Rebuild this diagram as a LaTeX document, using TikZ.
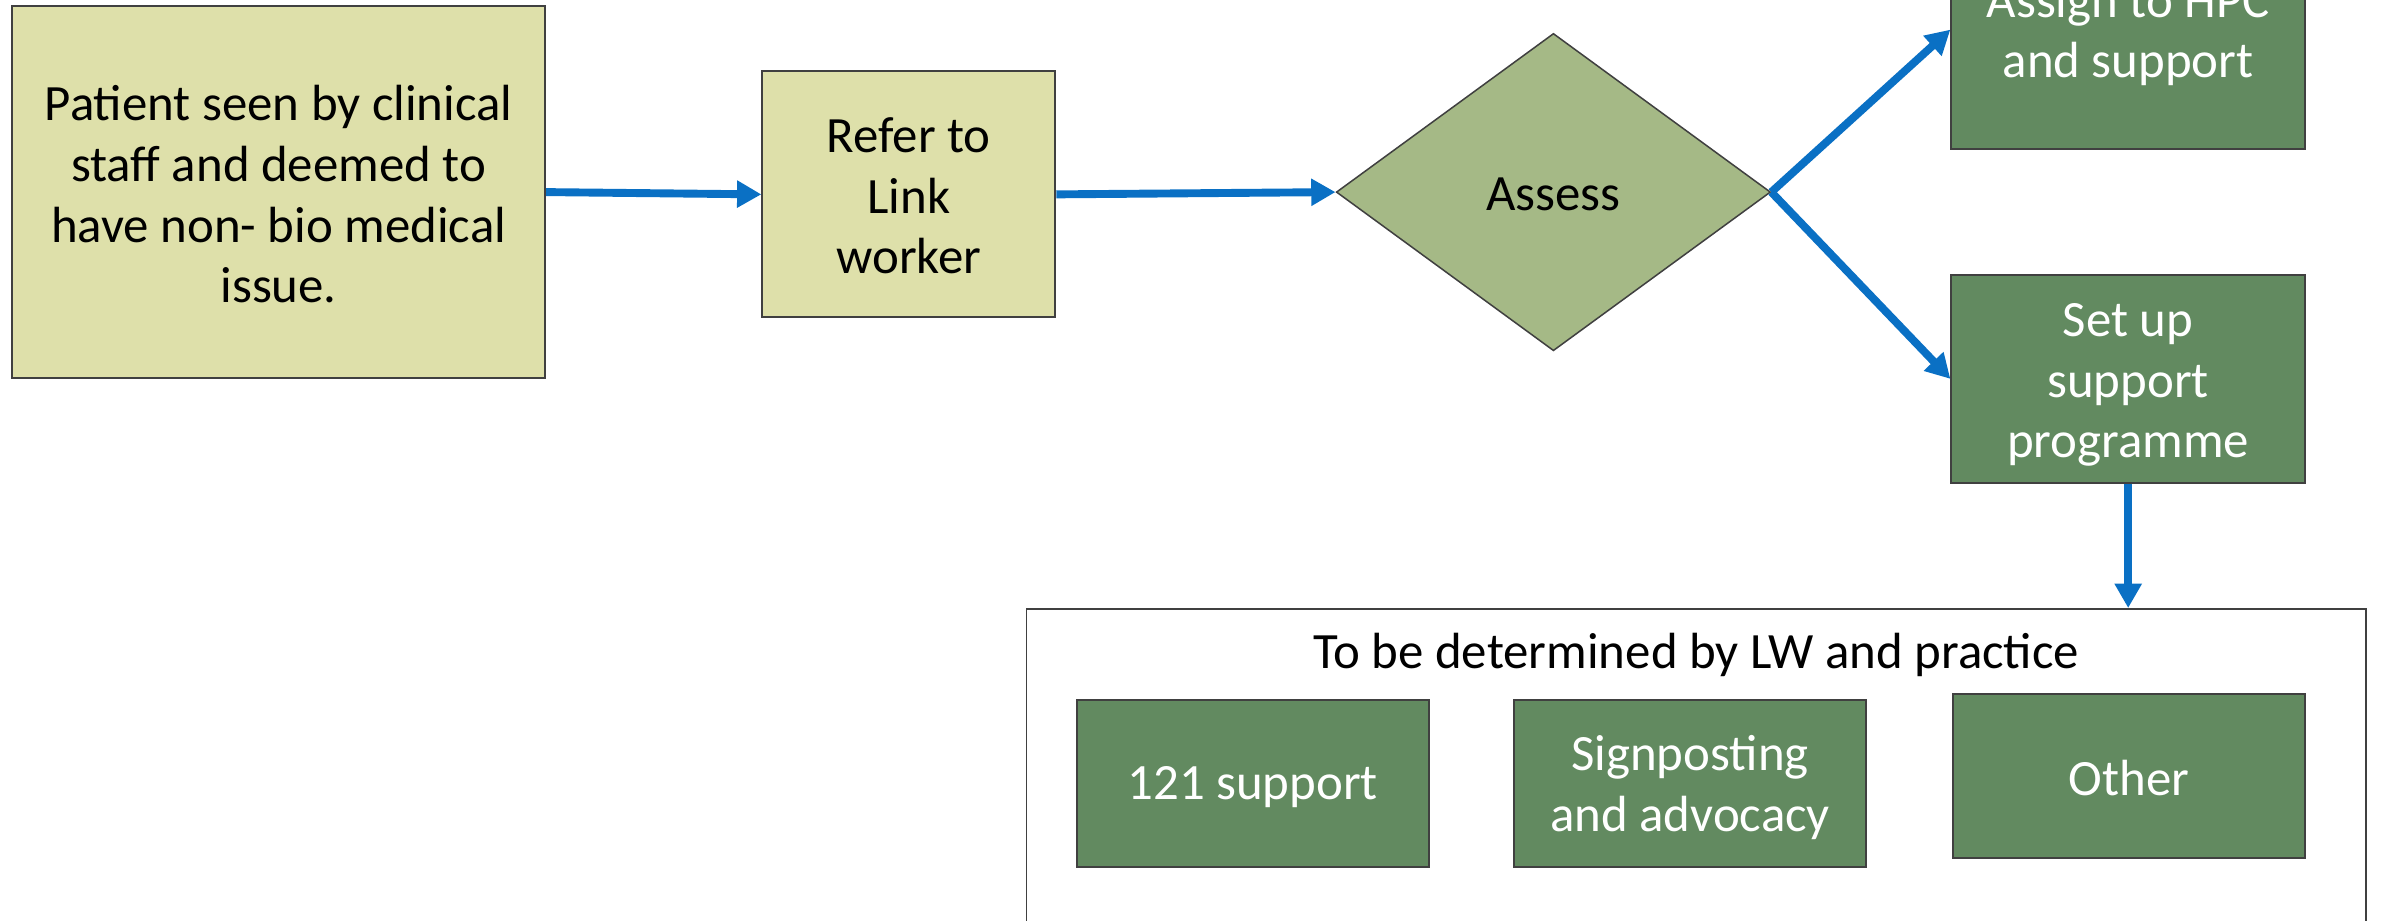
\documentclass[tikz,border=0pt]{standalone}
\usepackage{fontspec}
\setmainfont{Carlito}
\usetikzlibrary{shapes.geometric,arrows.meta}
\definecolor{lightolive}{HTML}{DEE0AA}
\definecolor{midolive}{HTML}{A5B986}
\definecolor{darkgreen}{HTML}{628A60}
\definecolor{arrowblue}{HTML}{0A70C4}
\definecolor{edgegrey}{HTML}{404040}
\begin{document}
\begin{tikzpicture}[x=1pt,y=-1pt,
  txt/.style={font=\fontsize{33.5}{40}\selectfont, align=center, inner sep=0pt},
  lightbox/.style={draw=edgegrey, line width=1.2pt, fill=lightolive, inner sep=0pt},
  darkbox/.style={draw=edgegrey, line width=1.2pt, fill=darkgreen, inner sep=0pt},
  darktxt/.style={txt, text=white},
  decision/.style={diamond, draw=edgegrey, line width=1pt, fill=midolive, inner sep=0pt},
  flow/.style={draw=arrowblue, line width=5.2pt, -{Triangle[length=16pt,width=17pt]}}
]
\useasboundingbox (0,0) rectangle (1568,606);
% boxes
\node[lightbox, minimum width=351pt, minimum height=245pt] (patient) at (183.5,126.5) {};
\node[txt] (patientT) at (183.5,128) {Patient seen by clinical\\staff and deemed to\\have non- bio medical\\issue.};
\node[lightbox, minimum width=193pt, minimum height=162pt] (refer) at (598.5,128) {};
\node[txt] (referT) at (598.5,129) {Refer to\\Link\\worker};
\node[decision, minimum width=286pt, minimum height=209pt] (assess) at (1023,126.5) {};
\node[txt] (assessT) at (1023,128) {Assess};
\node[darkbox, minimum width=233pt, minimum height=157pt] (assign) at (1401.5,19.5) {};
\node[darktxt] (assignT) at (1401.5,22.5) {Assign to HPC\\and support};
\node[darkbox, minimum width=233pt, minimum height=137pt] (setup) at (1401.5,249.5) {};
\node[darktxt] (setupT) at (1401.5,253.5) {Set up\\support\\programme};
\node[draw=edgegrey, line width=1.2pt, fill=white, minimum width=882pt, minimum height=320pt, inner sep=0pt] (big) at (1117,561) {};
\node[txt] (title) at (1117,431) {To be determined by LW and practice};
\node[darkbox, minimum width=232pt, minimum height=110pt] (one) at (825,516) {};
\node[darktxt] (oneT) at (825,518.5) {121 support};
\node[darkbox, minimum width=232pt, minimum height=110pt] (sign) at (1113,516) {};
\node[darktxt] (signT) at (1113,518.5) {Signposting\\and advocacy};
\node[darkbox, minimum width=232pt, minimum height=108pt] (other) at (1402,511) {};
\node[darktxt] (otherT) at (1402,512.5) {Other};
% connectors
\draw[flow] (patient.east) -- (refer.west);
\draw[flow] (refer.east) -- (assess.west);
\draw[flow] (assess.east) -- (assign.west);
\draw[flow] (assess.east) -- (setup.west);
\draw[flow] (setup.south) -- (setup.south |- big.north);
\end{tikzpicture}
\end{document}
